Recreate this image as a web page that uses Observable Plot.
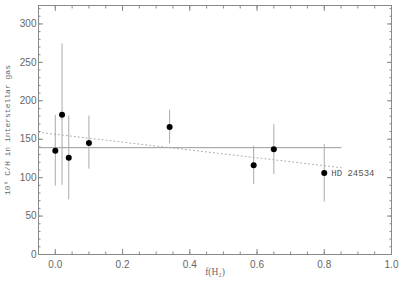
<!DOCTYPE html>
<html><head><meta charset="utf-8">
<script src="https://cdn.jsdelivr.net/npm/d3@7"></script>
<script src="https://cdn.jsdelivr.net/npm/@observablehq/plot@0.6"></script>
<style>body{margin:0;background:#fff}</style>
</head><body><div id="chart"></div>
<script>
// Data
const fH2   = [0.00, 0.02, 0.04, 0.10, 0.34, 0.59, 0.65, 0.80];
const ch    = [135, 182, 126, 145, 166, 116, 137, 106];
const errLo = [89, 90, 71, 111, 144, 91, 104, 68];
const errHi = [181, 274, 180, 180, 188, 141, 169, 143];
const starLabel = ["", "", "", "", "", "", "", "HD 24534"];

const meanX = [-0.05, 0.85];
const meanY = [139, 139];
const fitX  = [-0.05, 0.85];
const fitY  = [159, 113];

const xMajor = [0, 0.2, 0.4, 0.6, 0.8, 1.0];
const yMajor = [0, 50, 100, 150, 200, 250, 300];
const xMinor = d3.range(-0.05, 1.001, 0.05);
const yMinor = d3.range(0, 321, 10);

const yTitle = "10\u2076 C/H in interstellar gas";
const xTitle = "f(H\u2082)";

const pts  = fH2.map((f, i) => ({f, v: ch[i], lo: errLo[i], hi: errHi[i], lab: starLabel[i]}));
const mean = meanX.map((x, i) => ({x, y: meanY[i]}));
const fit  = fitX.map((x, i) => ({x, y: fitY[i]}));

const gray = "#8a8a8a";
const tickFont = {fontFamily: "'Liberation Sans', Arial, sans-serif", fontSize: 10};

const chart = Plot.plot({
  width: 400, height: 283,
  marginLeft: 38, marginRight: 9, marginTop: 5, marginBottom: 29,
  style: {background: "#fff", color: "#666"},
  x: {domain: [-0.05, 1.0]},
  y: {domain: [0, 324]},
  marks: [
    Plot.frame({stroke: gray}),
    // inward ticks, all four sides
    Plot.axisX(xMajor, {anchor: "bottom", tickSize: -5, tickFormat: () => "", stroke: gray, label: null}),
    Plot.axisX(xMajor, {anchor: "top", tickSize: -5, tickFormat: () => "", stroke: gray, label: null}),
    Plot.axisX(xMinor, {anchor: "bottom", tickSize: -2.5, tickFormat: () => "", stroke: gray, label: null}),
    Plot.axisX(xMinor, {anchor: "top", tickSize: -2.5, tickFormat: () => "", stroke: gray, label: null}),
    Plot.axisY(yMajor, {anchor: "left", tickSize: -5, tickFormat: () => "", stroke: gray, label: null}),
    Plot.axisY(yMajor, {anchor: "right", tickSize: -5, tickFormat: () => "", stroke: gray, label: null}),
    Plot.axisY(yMinor, {anchor: "left", tickSize: -2.5, tickFormat: () => "", stroke: gray, label: null}),
    Plot.axisY(yMinor, {anchor: "right", tickSize: -2.5, tickFormat: () => "", stroke: gray, label: null}),
    // tick labels
    Plot.axisX(xMajor, {anchor: "bottom", tickSize: 0, tickPadding: 6, tickFormat: d3.format(".1f"), label: null, ...tickFont}),
    Plot.axisY(yMajor, {anchor: "left", tickSize: 0, tickPadding: 2, tickFormat: d3.format("d"), label: null, ...tickFont}),
    // axis titles
    Plot.text([yTitle], {frameAnchor: "left", textAnchor: "middle", dx: -31, rotate: -90, fontFamily: "'Liberation Mono', monospace", fontSize: 8, fill: "#666"}),
    Plot.text([xTitle], {frameAnchor: "bottom", textAnchor: "middle", dy: 20, fontFamily: "'Liberation Serif', serif", fontSize: 9.5, fill: "#666"}),
    // lines
    Plot.line(mean, {x: "x", y: "y", stroke: "#999", strokeWidth: 1}),
    Plot.line(fit, {x: "x", y: "y", stroke: "#aaa", strokeWidth: 1, strokeDasharray: "1,3"}),
    // error bars and points
    Plot.ruleX(pts, {x: "f", y1: "lo", y2: "hi", stroke: "#aaa", strokeWidth: 1}),
    Plot.dot(pts, {x: "f", y: "v", r: 3, fill: "#000"}),
    Plot.text(pts, {x: "f", y: "v", text: "lab", dx: 7, textAnchor: "start", fontFamily: "'Liberation Mono', monospace", fontSize: 9, fill: "#555"})
  ]
});
// keep the rotated y title to the reference's length
d3.select(chart).selectAll("text").filter(function() { return this.textContent === yTitle; })
  .attr("textLength", 130).attr("lengthAdjust", "spacingAndGlyphs");
document.getElementById("chart").append(chart);
</script>
</body></html>
